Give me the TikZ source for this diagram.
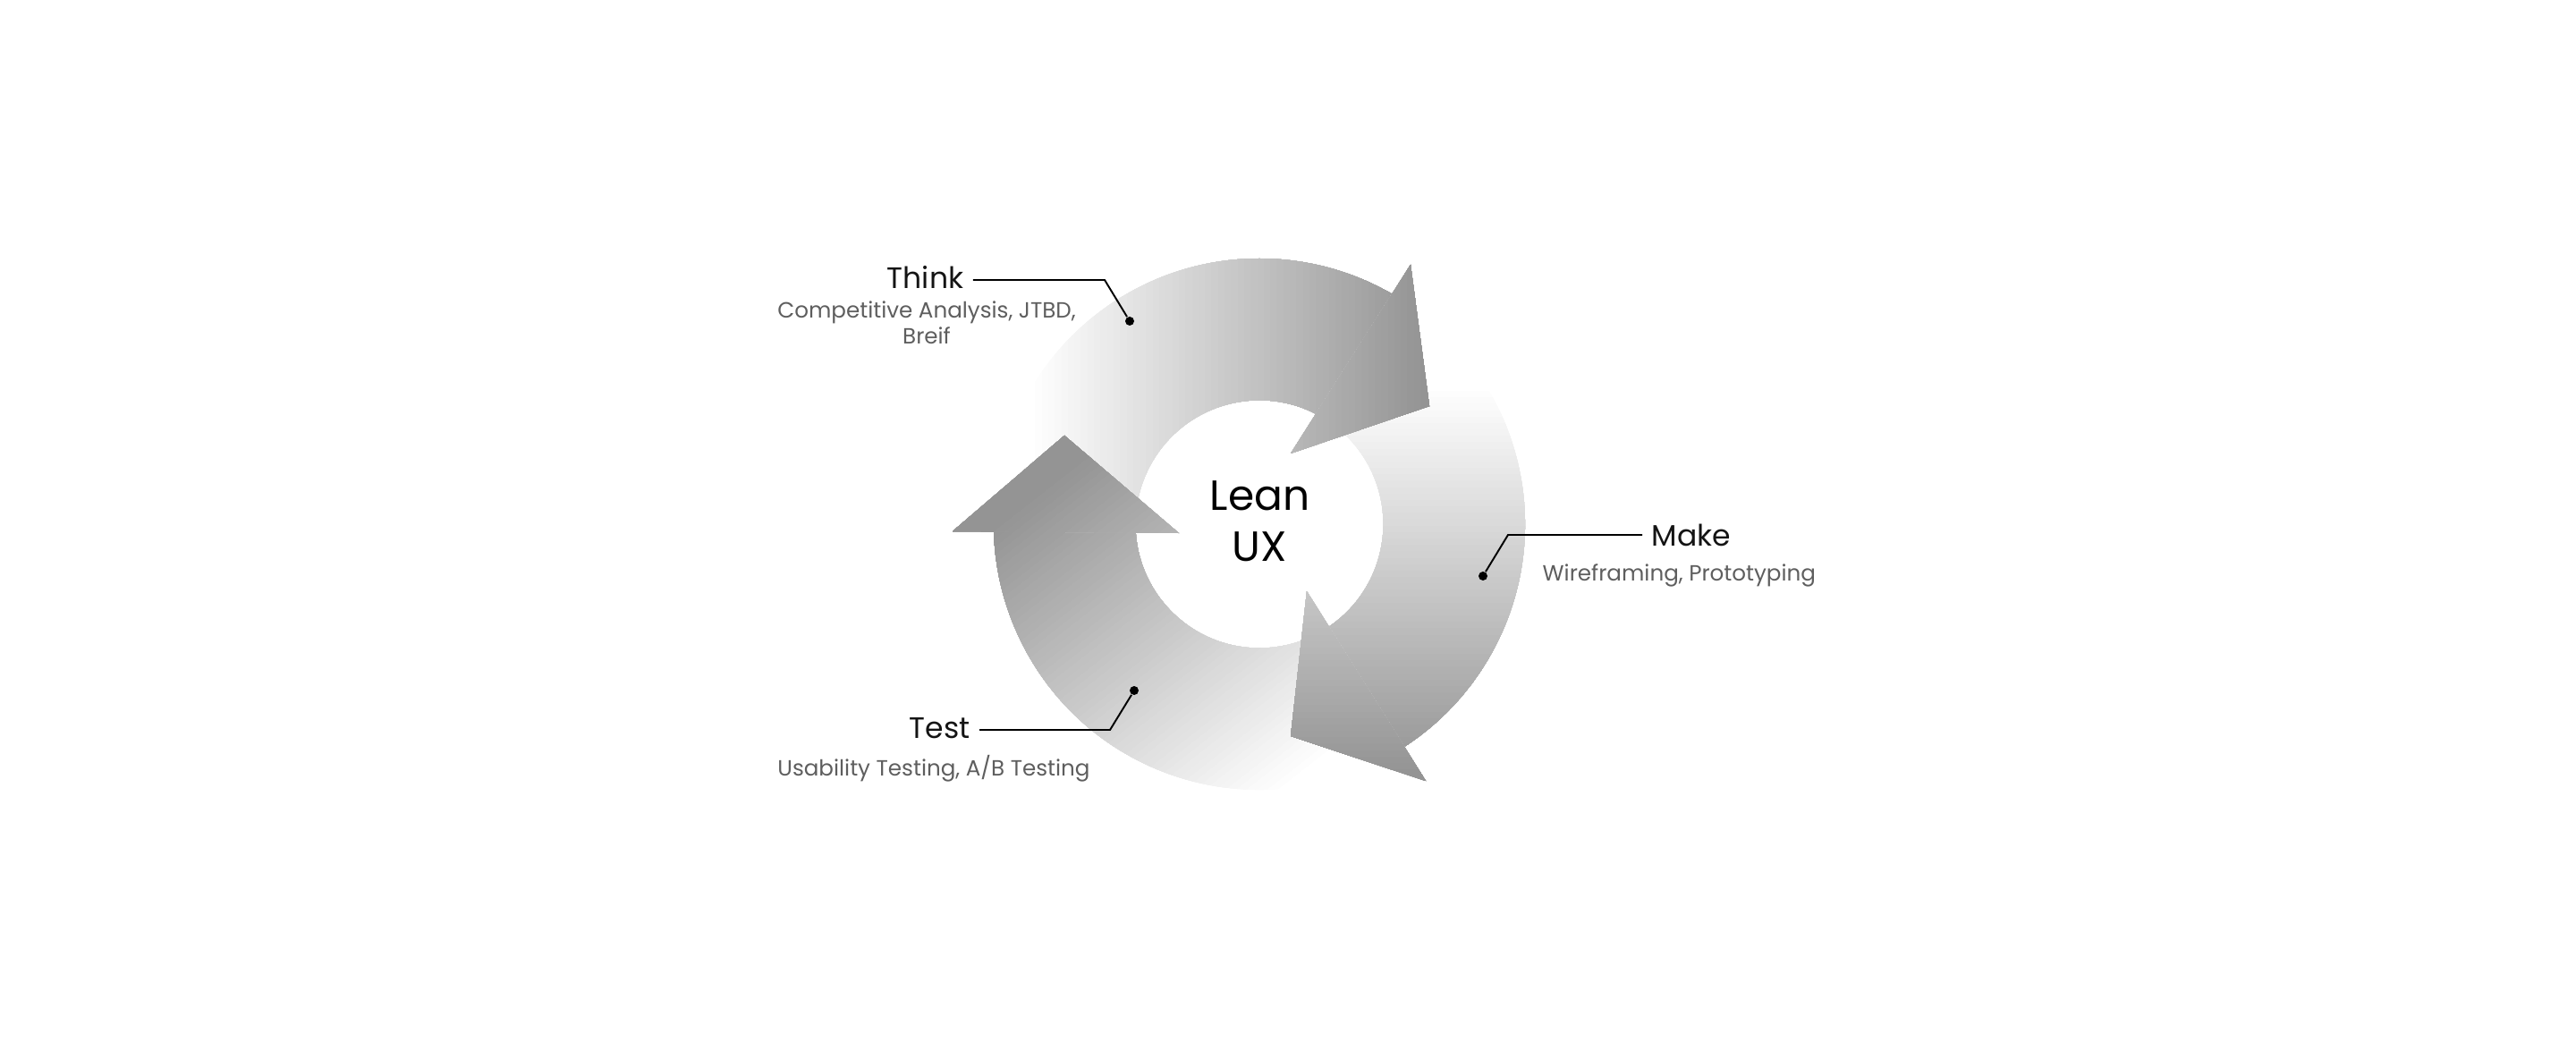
\documentclass[tikz,border=0pt]{standalone}
\usepackage{fontspec}
\setmainfont{Poppins}
\definecolor{arrowgray}{HTML}{949494}
\definecolor{notegray}{HTML}{5E5E5E}
\tikzset{
  phase/.style={font=\fontsize{9.4}{11}\selectfont, text=black!92, inner sep=1mm},
  note/.style={font=\fontsize{7}{8.25}\selectfont, text=notegray, align=center, inner sep=0pt},
  hub/.style={font=\fontsize{13.4}{16.2}\selectfont, align=center, inner sep=0pt},
  pin/.style={circle, fill=black, inner sep=0pt, minimum size=1mm},
  leader/.style={line width=0.55pt},
}
% white-to-grey ramp: start point, direction, length
\newcommand{\ramp}[3]{%
  \begin{scope}[shift={#1}, rotate=#2]
    \foreach \i [evaluate=\i as \p using \i*100/60] in {0,...,60}
      \fill[arrowgray!\p!white] ({\i*#3/60},-7) rectangle (9,7);
  \end{scope}}

\begin{document}
\begin{tikzpicture}
    \useasboundingbox (0,0) rectangle (28.8,11.74);
    \begin{scope}[shift={(14.08,5.88)}]
        % bodies
        \begin{scope}
            \clip (180:2.97) arc[start angle=180, end angle=58, radius=2.97] -- (58:1.385) arc[start angle=58, end angle=180, radius=1.385] -- cycle;
            \ramp{(-2.58,0)}{0}{4.38}
        \end{scope}
        \begin{scope}
            \clip (58:2.97) arc[start angle=58, end angle=-59, radius=2.97] -- (-59:1.385) arc[start angle=-59, end angle=58, radius=1.385] -- cycle;
            \ramp{(0,1.56)}{-90}{4.3}
        \end{scope}
        \begin{scope}
            \clip (-59:2.97) arc[start angle=-59, end angle=-180, radius=2.97] -- (-180:1.385) arc[start angle=-180, end angle=-59, radius=1.385] -- cycle;
            \ramp{(0.25,-3.02)}{128}{4.3}
        \end{scope}
        % heads, on top of the tails they cover
        \begin{scope}
            \clip (1.69,2.90) -- (1.90,1.32) -- (0.35,0.79) -- cycle;
            \ramp{(-2.58,0)}{0}{4.38}
        \end{scope}
        \begin{scope}
            \clip (0.53,-0.75) -- (0.35,-2.37) -- (1.86,-2.87) -- cycle;
            \ramp{(0,1.56)}{-90}{4.3}
        \end{scope}
        \begin{scope}
            \clip (-3.43,-0.08) -- (-2.18,0.99) -- (-0.90,-0.10) -- cycle;
            \ramp{(0.25,-3.02)}{128}{4.3}
        \end{scope}
    \end{scope}

    \node[hub, anchor=north] (hub) at (14.085,6.37) {Lean\\UX};

    \node[phase, anchor=base] (think) at (10.345,8.51) {Think};
    \node[note, anchor=north] (thinknote) at (10.36,8.38) {Competitive Analysis, JTBD,\\Breif};
    \node[pin] (thinkpin) at (12.63,8.15) {};
    \coordinate (thinkbend) at (12.35,8.61);
    \draw[leader] (thinkpin) -- (thinkbend) -- (thinkbend -| think.east);

    \node[phase, anchor=base west] (make) at (18.36,5.63) {Make};
    \node[note, anchor=base west] (makenote) at (17.24,5.25) {Wireframing, Prototyping};
    \node[pin] (makepin) at (16.58,5.30) {};
    \coordinate (makebend) at (16.86,5.76);
    \draw[leader] (makepin) -- (makebend) -- (makebend -| make.west);

    \node[phase, anchor=base] (test) at (10.505,3.49) {Test};
    \node[note, anchor=base] (testnote) at (10.44,3.07) {Usability Testing, A/B Testing};
    \node[pin] (testpin) at (12.68,4.02) {};
    \coordinate (testbend) at (12.41,3.58);
    \draw[leader] (testpin) -- (testbend) -- (testbend -| test.east);
\end{tikzpicture}
\end{document}
